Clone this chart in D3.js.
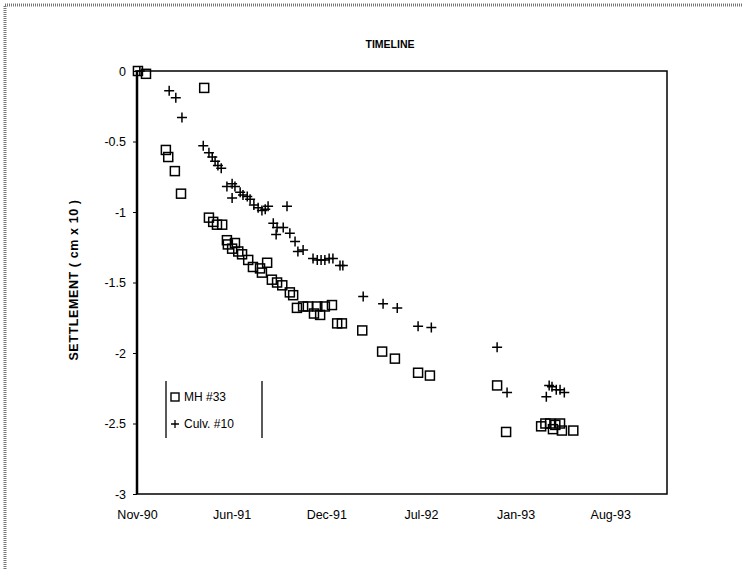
<!DOCTYPE html>
<html>
<head>
<meta charset="utf-8">
<script src="https://cdn.jsdelivr.net/npm/d3@7"></script>
<style>
  body { margin: 0; background: #fff; }
  svg { display: block; font-family: "Liberation Sans", Arial, sans-serif; }
  .axis path, .axis line { stroke: #000; }
  .axis text { font-size: 12.5px; fill: #000; }
</style>
</head>
<body>
<div id="chart"></div>
<script>
const width = 742,
height = 570,
margin = ({ top: 71, right: 75, bottom: 76, left: 137 });

// MH #33 readings (date, settlement)
const mhDates = ["1990-11-17","1990-12-04","1991-04-06","1991-01-15","1991-01-20","1991-02-03","1991-02-16",
  "1991-04-16","1991-04-25","1991-05-03","1991-05-14","1991-05-24","1991-05-26","1991-06-10","1991-06-04",
  "1991-06-17","1991-06-25","1991-07-08","1991-07-18","1991-08-02","1991-08-06","1991-08-17","1991-08-27",
  "1991-09-07","1991-09-18","1991-10-04","1991-10-11","1991-10-19","1991-11-01","1991-11-11","1991-12-01",
  "1991-12-17","1992-01-01","1991-12-07","1991-11-24","1992-01-12","1992-01-22","1992-03-05","1992-04-16",
  "1992-05-13","1992-07-01","1992-07-26","1992-12-15","1993-01-03","1993-03-18","1993-03-27","1993-04-06",
  "1993-04-17","1993-04-27","1993-05-01","1993-04-12","1993-05-25"];
const mhValues = [0,-0.02,-0.12,-0.56,-0.61,-0.71,-0.87,
  -1.04,-1.07,-1.09,-1.09,-1.20,-1.23,-1.22,-1.26,
  -1.28,-1.30,-1.34,-1.39,-1.40,-1.43,-1.36,-1.48,
  -1.50,-1.52,-1.57,-1.59,-1.68,-1.67,-1.67,-1.67,
  -1.67,-1.66,-1.73,-1.72,-1.79,-1.79,-1.84,-1.99,
  -2.04,-2.14,-2.16,-2.23,-2.56,-2.52,-2.50,-2.50,
  -2.51,-2.50,-2.55,-2.54,-2.55];

// Culv. #10 readings
const culvDates = ["1990-11-21","1991-01-22","1991-02-05","1991-02-18","1991-04-04","1991-04-16","1991-04-23",
  "1991-04-29","1991-05-05","1991-05-12","1991-05-24","1991-06-04","1991-06-10","1991-06-04","1991-06-21",
  "1991-06-27","1991-07-06","1991-07-12","1991-07-20","1991-07-29","1991-08-06","1991-08-13","1991-08-19",
  "1991-09-28","1991-08-30","1991-09-07","1991-09-05","1991-09-20","1991-10-04","1991-10-15","1991-10-21",
  "1991-11-01","1991-11-22","1991-12-01","1991-12-09","1991-12-17","1991-12-26","1992-01-03","1992-01-18",
  "1992-01-24","1992-03-07","1992-04-18","1992-05-18","1992-07-01","1992-07-29","1992-12-15","1993-01-05",
  "1993-03-29","1993-04-04","1993-04-10","1993-04-19","1993-04-27","1993-05-06"];
const culvValues = [0,-0.14,-0.19,-0.33,-0.53,-0.58,-0.61,
  -0.64,-0.67,-0.69,-0.82,-0.80,-0.82,-0.90,-0.86,
  -0.88,-0.89,-0.91,-0.95,-0.97,-0.99,-0.98,-0.96,
  -0.96,-1.08,-1.11,-1.16,-1.11,-1.15,-1.21,-1.28,
  -1.27,-1.33,-1.34,-1.34,-1.34,-1.33,-1.33,-1.38,
  -1.38,-1.60,-1.65,-1.68,-1.81,-1.82,-1.96,-2.28,
  -2.31,-2.23,-2.24,-2.26,-2.26,-2.28];

const xTicks = ["1990-11-15","1991-06-03","1991-12-20","1992-07-07","1993-01-23","1993-08-11"];
const xEnd = "1993-12-09";
const yTicks = [0,-0.5,-1,-1.5,-2,-2.5,-3];

const parse = d3.timeParse("%Y-%m-%d");
const mh = mhDates.map((d, i) => ({ date: parse(d), value: mhValues[i] }));
const culv = culvDates.map((d, i) => ({ date: parse(d), value: culvValues[i] }));

const svg = d3.select("#chart")
  .append("svg")
  .attr("width", width)
  .attr("height", height);

// scanned frame around the chart area
svg.append("rect")
  .attr("x", 5).attr("y", 5)
  .attr("width", width + 20).attr("height", height + 20)
  .attr("fill", "none")
  .attr("stroke", "#777")
  .attr("stroke-width", 3)
  .attr("stroke-dasharray", "1 1");

let x = d3.scaleTime()
  .domain([parse(xTicks[0]), parse(xEnd)])
  .range([margin.left, width - margin.right]);

let y = d3.scaleLinear()
  .domain([-3, 0])
  .range([height - margin.bottom, margin.top]);

svg.append("g")
  .attr("class", "axis")
  .attr("transform", `translate(${margin.left},0)`)
  .call(d3.axisLeft(y)
    .tickValues(yTicks)
    .tickSize(4)
    .tickPadding(7)
    .tickFormat(d => String(d)))
  .call(g => g.select(".domain").remove());

svg.append("g")
  .attr("class", "axis")
  .attr("transform", `translate(0,${height - margin.bottom})`)
  .call(d3.axisBottom(x)
    .tickValues(xTicks.map(parse))
    .tickSize(0)
    .tickPadding(16)
    .tickFormat(d3.timeFormat("%b-%y")))
  .call(g => g.select(".domain").remove());

// plot frame
svg.append("rect")
  .attr("x", margin.left).attr("y", margin.top)
  .attr("width", width - margin.right - margin.left)
  .attr("height", height - margin.bottom - margin.top)
  .attr("fill", "none")
  .attr("stroke", "#000")
  .attr("stroke-width", 1.5);

svg.append("line")
  .attr("x1", margin.left).attr("x2", margin.left)
  .attr("y1", margin.top).attr("y2", height - margin.bottom)
  .attr("stroke", "#000")
  .attr("stroke-width", 2.5);

// MH #33 squares
svg.append("g")
  .selectAll("rect")
  .data(mh)
  .join("rect")
  .attr("x", d => x(d.date) - 4.5)
  .attr("y", d => y(d.value) - 4.5)
  .attr("width", 9).attr("height", 9)
  .attr("fill", "none")
  .attr("stroke", "#000")
  .attr("stroke-width", 1.5);

// Culv. #10 crosses
const cross = "M-5,0H5M0,-5V5";
svg.append("g")
  .selectAll("path")
  .data(culv)
  .join("path")
  .attr("transform", d => `translate(${x(d.date)},${y(d.value)})`)
  .attr("d", cross)
  .attr("stroke", "#000")
  .attr("stroke-width", 1.5);

svg.append("text")
  .attr("x", 390)
  .attr("y", 48)
  .attr("text-anchor", "middle")
  .attr("font-size", 10.5)
  .attr("font-weight", 700)
  .text("TIMELINE");

svg.append("text")
  .attr("transform", "rotate(-90)")
  .attr("x", -280)
  .attr("y", 78)
  .attr("text-anchor", "middle")
  .attr("font-size", 12.5)
  .attr("font-weight", 700)
  .attr("letter-spacing", 0.6)
  .text("SETTLEMENT ( cm x 10 )");

// legend
const legend = svg.append("g");
legend.selectAll("line")
  .data([166, 262])
  .join("line")
  .attr("x1", d => d).attr("x2", d => d)
  .attr("y1", 381).attr("y2", 438)
  .attr("stroke", "#000")
  .attr("stroke-width", 1.3);

legend.append("rect")
  .attr("x", 171).attr("y", 393)
  .attr("width", 8).attr("height", 8)
  .attr("fill", "none")
  .attr("stroke", "#000")
  .attr("stroke-width", 1.4);
legend.append("text")
  .attr("x", 184).attr("y", 401)
  .attr("font-size", 12)
  .text("MH #33");

legend.append("path")
  .attr("transform", "translate(175,424)")
  .attr("d", "M-4,0H4M0,-4V4")
  .attr("stroke", "#000")
  .attr("stroke-width", 1.3);
legend.append("text")
  .attr("x", 184).attr("y", 428)
  .attr("font-size", 12)
  .text("Culv. #10");
</script>
</body>
</html>
